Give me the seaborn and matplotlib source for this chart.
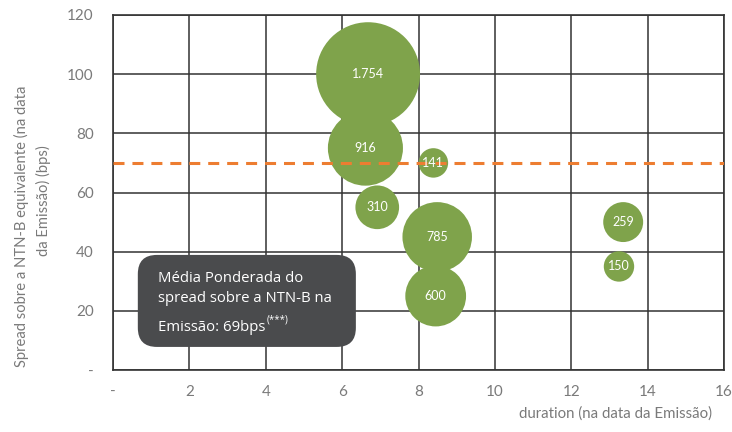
import matplotlib
matplotlib.use("Agg")
import matplotlib.pyplot as plt
import seaborn as sns
import pandas as pd
from matplotlib.patches import FancyBboxPatch

# Data
duration = [6.68, 6.61, 8.39, 6.92, 8.49, 8.45, 13.36, 13.25]
spread = [100, 75, 70, 55, 45, 25, 50, 35]
volume = [1754, 916, 141, 310, 785, 600, 259, 150]
labels = ["1.754", "916", "141", "310", "785", "600", "259", "150"]
media = 70
x_ticks = [0, 2, 4, 6, 8, 10, 12, 14, 16]
x_ticklabels = ["-", "2", "4", "6", "8", "10", "12", "14", "16"]
y_ticks = [0, 20, 40, 60, 80, 100, 120]
y_ticklabels = ["-", "20", "40", "60", "80", "100", "120"]
ylabel_lines = ["Spread sobre a NTN-B equivalente (na data", "da Emissão) (bps)"]

df = pd.DataFrame({"duration": duration, "spread": spread, "volume": volume})

sns.set_theme(style="white")
plt.rcParams["font.family"] = ["Lato", "DejaVu Sans"]

fig = plt.figure(figsize=(7.32, 4.32), dpi=100)
ax_pos = [113 / 732, 1 - 370 / 432, 611 / 732, 355 / 432]
ax = fig.add_axes(ax_pos)

k = 3.19
sns.scatterplot(data=df, x="duration", y="spread", size="volume",
                sizes=(k * min(volume), k * max(volume)),
                size_norm=(min(volume), max(volume)),
                color="#7fa34b", edgecolor="none", linewidth=0,
                alpha=1, legend=False, ax=ax, zorder=3)

for xv, yv, lab in zip(duration, spread, labels):
    ax.text(xv, yv, lab, color="white", fontsize=9, ha="center", va="center", zorder=6)

ax.axhline(media, color="#ED7D31", lw=2.2, dashes=(3.6, 2.6), zorder=5)

ax.set_xlim(0, 16)
ax.set_ylim(0, 120)
ax.set_xticks(x_ticks)
ax.set_xticklabels(x_ticklabels)
ax.set_yticks(y_ticks)
ax.set_yticklabels(y_ticklabels)
ax.grid(True, color="#333333", lw=1.1, zorder=0)
ax.set_axisbelow(True)
for s in ax.spines.values():
    s.set_color("#333333")
    s.set_linewidth(1.2)
ax.tick_params(axis="both", length=0, labelsize=11, labelcolor="#7a7a7a")
ax.tick_params(axis="y", pad=14)
ax.tick_params(axis="x", pad=11)

ax.set_xlabel("")
ax.set_ylabel("")
fig.text(21 / 732, 1 - 226 / 432, ylabel_lines[0], rotation=90, fontsize=10.6,
         color="#7a7a7a", ha="center", va="center")
fig.text(43 / 732, 1 - 201 / 432, ylabel_lines[1], rotation=90, fontsize=10.6,
         color="#7a7a7a", ha="center", va="center")
fig.text(0.973, 0.042, "duration (na data da Emissão)", fontsize=10.8,
         color="#7a7a7a", ha="right", va="center")

box = FancyBboxPatch((0.65, 7.8), 5.71, 31.1,
                     boxstyle="round,pad=0,rounding_size=0.5",
                     mutation_aspect=(120 / 16) * (611 / 355),
                     facecolor="#4a4b4d", edgecolor="none", zorder=4)
ax.add_patch(box)
box_lines = ["Média Ponderada do", "spread sobre a NTN-B na", "Emissão: 69bps"]
ys = [30.8, 24.3, 14.4]
txts = []
for line, yv in zip(box_lines, ys):
    t = ax.text(1.18, yv, line, color="white", fontsize=10.7, ha="left",
                va="center", family=["Open Sans", "DejaVu Sans"], zorder=6)
    txts.append(t)
ax.annotate("(***)", xy=(1, 1), xycoords=txts[-1], xytext=(0.5, -4),
            textcoords="offset points", color="white", fontsize=7,
            ha="left", va="bottom", family=["Open Sans", "DejaVu Sans"], zorder=6)

fig.savefig("out.png", dpi=100)
